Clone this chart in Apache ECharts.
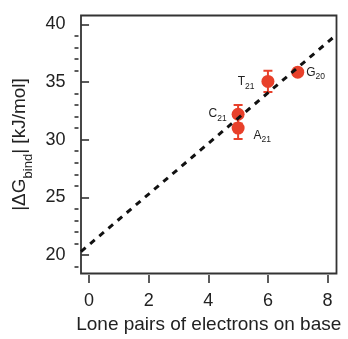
<!DOCTYPE html>
<html><head><meta charset="utf-8">
<script src="https://cdn.jsdelivr.net/npm/echarts@6/dist/echarts.min.js"></script>
<style>html,body{margin:0;padding:0;background:#fff}#c{width:348px;height:339px}</style>
</head><body><div id="c"></div>
<script>
// ---- data ----
const xTicks = [0, 2, 4, 6, 8];
const yTicks = [20, 25, 30, 35, 40];
const yMinorTicks = [19, 21, 22, 23, 24, 26, 27, 28, 29, 31, 32, 33, 34, 36, 37, 38, 39];
const baseLetters = ['A', 'C', 'T', 'G'];
const baseSubs = ['21', '21', '21', '20'];
const lonePairs = [5, 5, 6, 7];
const dGbind = [31.0, 32.2, 35.05, 35.85];
const dGerr = [0.95, 0.8, 0.93, 0.2];
const fitX = [-0.27, 8.3];
const fitY = [20.3, 39.1];

// ---- styling ----
const RED = '#e8402a';
const AX = '#333';
const TXT = '#222';
const FONT = '"Liberation Sans", Arial, sans-serif';
const labelCfg = [
  {position: 'right', distance: 9, offset: [0, 8]},
  {position: 'left', distance: 5, offset: [0, 0]},
  {position: 'left', distance: 7, offset: [0, 1]},
  {position: 'right', distance: 2, offset: [0, 1]}
];

const chart = echarts.init(document.getElementById('c'), null, {renderer: 'canvas'});
const yMin = 18.4, yMax = 40.76, xMin = -0.27, xMax = 8.3;

chart.setOption({
  animation: false,
  backgroundColor: '#fff',
  textStyle: {fontFamily: FONT},
  grid: {left: 81, right: 11.5, top: 15.5, bottom: 63, show: true, borderColor: AX, borderWidth: 1.8, backgroundColor: 'transparent'},
  xAxis: {
    type: 'value', min: xMin, max: xMax, offset: 1.5,
    axisLine: {show: false},
    axisTick: {show: true, customValues: xTicks, length: 8, lineStyle: {color: AX, width: 1.6}},
    axisLabel: {customValues: xTicks, margin: 17, fontSize: 18, color: TXT, fontFamily: FONT},
    splitLine: {show: false},
    name: 'Lone pairs of electrons on base', nameLocation: 'middle', nameGap: 40,
    nameTextStyle: {fontSize: 19, color: TXT, fontFamily: FONT}
  },
  yAxis: [{
    type: 'value', min: yMin, max: yMax, offset: 2.5,
    axisLine: {show: false},
    axisTick: {show: true, customValues: yTicks, length: 8, lineStyle: {color: AX, width: 1.6}},
    axisLabel: {customValues: yTicks, margin: 13, fontSize: 18, color: TXT, fontFamily: FONT},
    splitLine: {show: false},
    name: '{m||ΔG}{s|bind}{m|| [kJ/mol]}', nameLocation: 'middle', nameRotate: 90, nameGap: 41,
    nameTextStyle: {
      fontFamily: FONT, color: TXT,
      rich: {
        m: {fontSize: 19, lineHeight: 20, verticalAlign: 'top', color: TXT, fontFamily: FONT},
        s: {fontSize: 13, lineHeight: 13, verticalAlign: 'top', padding: [11, 0, 0, 0], color: TXT, fontFamily: FONT}
      }
    }
  }, {
    type: 'value', min: yMin, max: yMax, offset: 2.5, position: 'left',
    axisLine: {show: false},
    axisTick: {show: true, customValues: yMinorTicks, length: 4, lineStyle: {color: AX, width: 1.6}},
    axisLabel: {show: false},
    splitLine: {show: false}
  }],
  series: [{
    type: 'custom',
    z: 2,
    clip: true,
    data: lonePairs.map((x, i) => [x, dGbind[i] - dGerr[i], dGbind[i] + dGerr[i]]),
    renderItem: function (params, api) {
      const lo = api.coord([api.value(0), api.value(1)]);
      const hi = api.coord([api.value(0), api.value(2)]);
      const hw = 4.5;
      const st = {stroke: RED, lineWidth: 2};
      return {type: 'group', children: [
        {type: 'line', shape: {x1: lo[0], y1: lo[1], x2: hi[0], y2: hi[1]}, style: st},
        {type: 'line', shape: {x1: lo[0] - hw, y1: lo[1], x2: lo[0] + hw, y2: lo[1]}, style: st},
        {type: 'line', shape: {x1: hi[0] - hw, y1: hi[1], x2: hi[0] + hw, y2: hi[1]}, style: st}
      ]};
    }
  }, {
    type: 'scatter',
    z: 3,
    symbolSize: 13,
    itemStyle: {color: RED, opacity: 1},
    data: lonePairs.map((x, i) => ({
      value: [x, dGbind[i]],
      label: Object.assign({show: true}, labelCfg[i])
    })),
    label: {
      show: true,
      formatter: function (p) { return '{m|' + baseLetters[p.dataIndex] + '}{s|' + baseSubs[p.dataIndex] + '}'; },
      rich: {
        m: {fontSize: 12, lineHeight: 13, verticalAlign: 'top', color: TXT, fontFamily: FONT},
        s: {fontSize: 8.5, lineHeight: 9, verticalAlign: 'top', padding: [6, 0, 0, 0], color: TXT, fontFamily: FONT}
      }
    }
  }, {
    type: 'line',
    z: 5,
    data: fitX.map((x, i) => [x, fitY[i]]),
    showSymbol: false,
    symbol: 'none',
    lineStyle: {color: '#111', width: 3, type: [6, 6]},
    silent: true
  }]
});
</script>
</body></html>
